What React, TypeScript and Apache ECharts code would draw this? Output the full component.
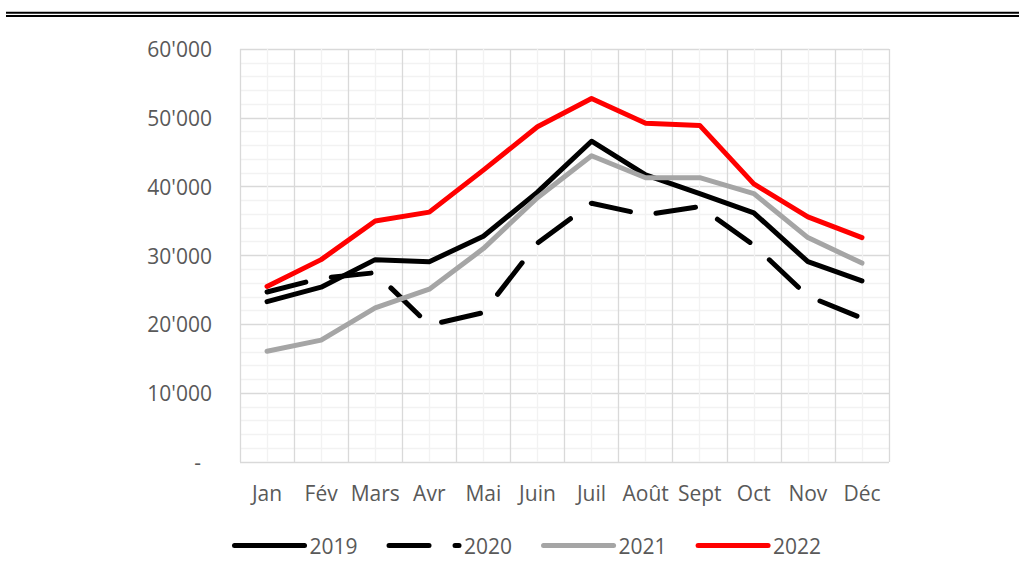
import React, { useEffect, useRef } from "react";
import * as echarts from "echarts";

const months = ["Jan", "Fév", "Mars", "Avr", "Mai", "Juin", "Juil", "Août", "Sept", "Oct", "Nov", "Déc"];
const v2019 = [23300, 25400, 29400, 29100, 32800, 39200, 46600, 41700, 39000, 36200, 29100, 26300];
const v2020 = [24700, 26700, 27500, 19900, 21700, 31800, 37600, 35900, 37100, 31500, 24100, 20900];
const v2021 = [16100, 17700, 22400, 25100, 31000, 38400, 44500, 41300, 41300, 39000, 32600, 28900];
const v2022 = [25500, 29400, 35000, 36300, 42400, 48700, 52800, 49200, 48900, 40400, 35600, 32600];
const seriesNames = ["2019", "2020", "2021", "2022"];

const FONT = "'Open Sans', sans-serif";
const TEXT = "#595959";
const FS = 21;

export default function App() {
  const ref = useRef<HTMLDivElement>(null);
  useEffect(() => {
    if (!ref.current) return;
    const chart = echarts.init(ref.current, undefined, { renderer: "svg" });
    const lw = 5;
    chart.setOption({
      animation: false,
      backgroundColor: "#ffffff",
      textStyle: { fontFamily: FONT },
      graphic: [
        { type: "line", shape: { x1: 6, y1: 12.8, x2: 1019, y2: 12.8 }, style: { stroke: "#000", lineWidth: 2 } },
        { type: "line", shape: { x1: 6, y1: 15.9, x2: 1019, y2: 15.9 }, style: { stroke: "#000", lineWidth: 2 } },
      ],
      grid: { left: 240, right: 130, top: 49, bottom: 110, containLabel: false },
      legend: {
        left: 232,
        top: 535,
        padding: 0,
        itemWidth: 70,
        itemHeight: 20,
        itemGap: 29,
        itemStyle: { opacity: 0 },
        lineStyle: { width: 5, cap: "round" },
        textStyle: { fontFamily: FONT, fontSize: FS, color: TEXT },
        data: seriesNames,
      },
      xAxis: [
        {
          type: "category",
          data: months,
          boundaryGap: true,
          axisLine: { show: false },
          axisTick: { show: false },
          splitLine: { show: false },
          axisLabel: { fontFamily: FONT, fontSize: FS, color: TEXT, margin: 20, interval: 0 },
        },
        {
          type: "value",
          min: 0,
          max: 24,
          interval: 1,
          position: "top",
          axisLine: { show: false },
          axisTick: { show: false },
          axisLabel: { show: false },
          splitLine: { show: true, lineStyle: { color: ["#d9d9d9", "#f2f2f2"], width: 1.3 } },
        },
      ],
      yAxis: {
        type: "value",
        min: 0,
        max: 60000,
        interval: 10000,
        axisLine: { show: false },
        axisTick: { show: false },
        minorTick: { show: false, splitNumber: 5 },
        minorSplitLine: { show: true, lineStyle: { color: "#f2f2f2", width: 1.3 } },
        splitLine: { show: true, lineStyle: { color: "#d9d9d9", width: 1.3 } },
        axisLabel: {
          fontFamily: FONT,
          fontSize: FS,
          color: TEXT,
          margin: 28,
          formatter: (v: number) => (v === 0 ? "{z|-}" : `${v / 1000}'000`),
          rich: { z: { fontFamily: FONT, fontSize: FS, color: TEXT, padding: [0, 11, 0, 0] } },
        },
      },
      series: [
        {
          name: "2019", type: "line", data: v2019, symbol: "none", xAxisIndex: 0,
          lineStyle: { color: "#000000", width: lw, cap: "round", join: "round" },
          itemStyle: { color: "#000000" },
        },
        {
          name: "2020", type: "line", data: v2020, symbol: "none", xAxisIndex: 0,
          lineStyle: { color: "#000000", width: lw, type: [40, 26], cap: "round", join: "round" },
          itemStyle: { color: "#000000" },
        },
        {
          name: "2021", type: "line", data: v2021, symbol: "none", xAxisIndex: 0,
          lineStyle: { color: "#a5a5a5", width: lw, cap: "round", join: "round" },
          itemStyle: { color: "#a5a5a5" },
        },
        {
          name: "2022", type: "line", data: v2022, symbol: "none", xAxisIndex: 0,
          lineStyle: { color: "#ff0000", width: lw, cap: "round", join: "round" },
          itemStyle: { color: "#ff0000" },
        },
      ],
    });
    return () => chart.dispose();
  }, []);
  return <div ref={ref} style={{ position: "absolute", left: 0, top: 0, width: 1019, height: 572 }} />;
}
